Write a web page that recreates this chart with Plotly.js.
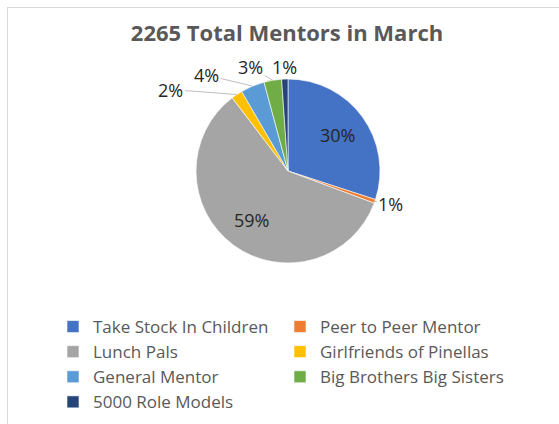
<!DOCTYPE html>
<html>
<head>
<meta charset="utf-8">
<script src="https://cdn.plot.ly/plotly-3.0.1.min.js"></script>
<style>
html,body{margin:0;padding:0;background:#fff;}
#wrap{position:relative;width:559px;height:424px;}
#chart{width:559px;height:424px;}
#frame{position:absolute;left:7px;top:7px;right:0;bottom:0;border-left:1px solid #d9d9d9;border-top:1px solid #d9d9d9;pointer-events:none;}
</style>
</head>
<body>
<div id="wrap"><div id="chart"></div><div id="frame"></div></div>
<script>
const categories = ["Take Stock In Children", "Peer to Peer Mentor", "Lunch Pals", "Girlfriends of Pinellas", "General Mentor", "Big Brothers Big Sisters", "5000 Role Models"];
const mentors = [680, 15, 1335, 45, 95, 70, 25];
const colors = ["#4472C4", "#ED7D31", "#A5A5A5", "#FFC000", "#5B9BD5", "#70AD47", "#264478"];
const titleText = "2265 Total Mentors in March";

// label placement styles: inside labels at a radius fraction; outside labels with pixel offsets
const labelInside = [true, false, true, false, false, false, false];
const labelOffsetX = [0, 16, 0, -66, -46, -22, 0];
const labelOffsetY = [0, 3, 0, -5, -11, -13, -12];

const W = 559, H = 424;
const cx = 288, cy = 171, r = 92;
const labelFont = {family: "Open Sans, sans-serif", size: 18, color: "#262626"};

const trace = {
  type: "pie",
  labels: categories,
  values: mentors,
  sort: false,
  direction: "clockwise",
  rotation: 0,
  marker: {colors: colors, line: {color: "#ffffff", width: 0.6}},
  textinfo: "none",
  hoverinfo: "label+value+percent",
  domain: {x: [(cx - r) / W, (cx + r) / W], y: [(H - cy - r) / H, (H - cy + r) / H]}
};

const total = mentors.reduce((a, b) => a + b, 0);
const annotations = [];
let cum = 0;
mentors.forEach((v, i) => {
  const mid = (cum + v / 2) / total * 2 * Math.PI;
  cum += v;
  const pct = Math.round(v / total * 100) + "%";
  if (labelInside[i]) {
    const rf = 0.66 * r;
    annotations.push({
      xref: "paper", yref: "paper",
      x: (cx + rf * Math.sin(mid)) / W, y: 1 - (cy - rf * Math.cos(mid)) / H,
      text: pct, showarrow: false, font: labelFont, xanchor: "center", yanchor: "middle"
    });
  } else {
    const ex = cx + r * Math.sin(mid), ey = cy - r * Math.cos(mid);
    annotations.push({
      xref: "paper", yref: "paper",
      x: ex / W, y: 1 - ey / H,
      text: pct, showarrow: true, arrowhead: 0, arrowwidth: 1, arrowcolor: "#bfbfbf",
      ax: labelOffsetX[i], ay: labelOffsetY[i], standoff: 0, startstandoff: 0,
      font: labelFont
    });
  }
});

const layout = {
  width: W, height: H,
  margin: {l: 0, r: 0, t: 0, b: 0},
  paper_bgcolor: "#ffffff",
  title: {text: "<b>" + titleText + "</b>", x: 287 / W, xanchor: "center", y: 1 - 33 / H, yanchor: "middle",
          font: {family: "Open Sans, sans-serif", size: 22, color: "#595959"}},
  showlegend: true,
  legend: {orientation: "h", x: 53 / W, xanchor: "left", y: 1 - 309 / H, yanchor: "top",
           entrywidth: 182, entrywidthmode: "pixels",
           font: {family: "Open Sans, sans-serif", size: 17, color: "#595959"}},
  annotations: annotations,
  font: {family: "Open Sans, sans-serif"}
};

Plotly.newPlot("chart", [trace], layout, {displayModeBar: false, staticPlot: true});
</script>
</body>
</html>
